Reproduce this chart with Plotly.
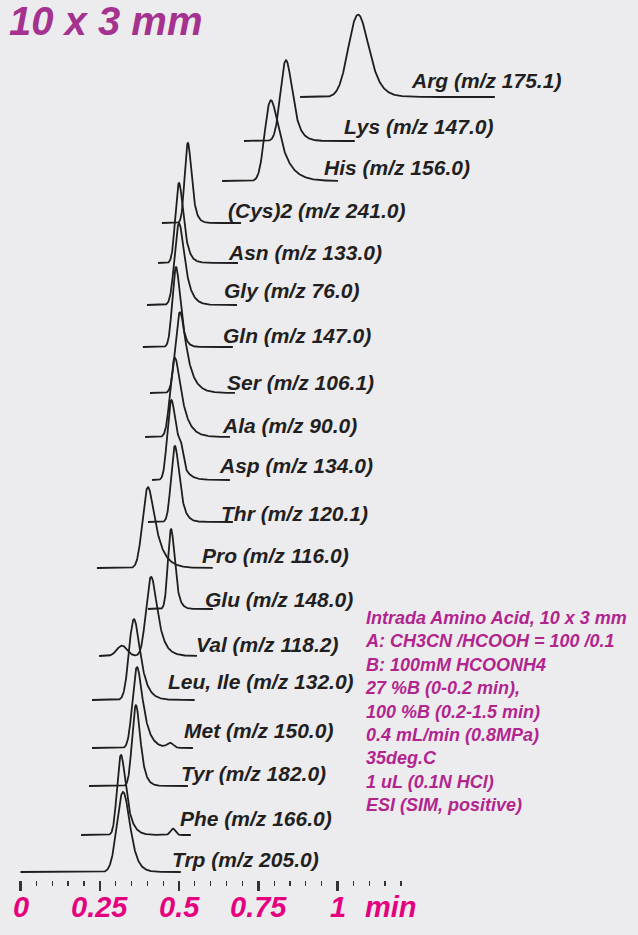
import math
import numpy as np
import plotly.graph_objects as go

# ---------------- data ----------------
NAMES = ["Arg", "Lys", "His", "(Cys)2", "Asn", "Gly", "Gln", "Ser", "Ala", "Asp",
         "Thr", "Pro", "Glu", "Val", "Leu, Ile", "Met", "Tyr", "Phe", "Trp"]
MZ = ["175.1", "147.0", "156.0", "241.0", "133.0", "76.0", "147.0", "106.1", "90.0", "134.0",
      "120.1", "116.0", "148.0", "118.2", "132.0", "150.0", "182.0", "166.0", "205.0"]
# retention time of the apex (min)
RT = [1.065, 0.8375, 0.790, 0.528, 0.500, 0.500, 0.4905, 0.503, 0.487, 0.476,
      0.487, 0.402, 0.475, 0.412, 0.358, 0.3675, 0.364, 0.317, 0.3235]
# normalized peak height
HEIGHT = [1.03, 1.01, 1.01, 1.00, 1.00, 1.02, 1.00, 1.01, 0.99, 1.00,
          0.95, 1.01, 1.00, 0.99, 1.01, 1.01, 1.01, 1.00, 1.00]
# peak width (gaussian sigma, min) and tailing constant (min)
SIGMA = [0.027, 0.015, 0.015, 0.0085, 0.0095, 0.0115, 0.010, 0.0115, 0.0115, 0.010,
         0.010, 0.0135, 0.0085, 0.013, 0.013, 0.0115, 0.010, 0.010, 0.017]
TAU = [0.024, 0.017, 0.032, 0.010, 0.013, 0.017, 0.010, 0.022, 0.022, 0.019,
       0.013, 0.025, 0.010, 0.019, 0.019, 0.019, 0.012, 0.016, 0.016]
# recorded window of each trace (min)
T_START = [0.882, 0.705, 0.636, 0.446, 0.434, 0.399, 0.386, 0.4085, 0.393, 0.415,
           0.402, 0.241, 0.402, 0.248, 0.2255, 0.2255, 0.216, 0.191, 0.0]
T_END = [1.497, 1.055, 1.002, 0.696, 0.686, 0.683, 0.670, 0.677, 0.661, 0.661,
         0.670, 0.607, 0.607, 0.557, 0.550, 0.544, 0.528, 0.538, 0.506]
# small secondary features (shoulders / bumps)
BUMP_TRACE = ["Asp", "Val", "Met", "Phe"]
BUMP_RT = [0.506, 0.320, 0.472, 0.481]
BUMP_H = [0.18, 0.13, 0.06, 0.08]
BUMP_SIGMA = [0.007, 0.016, 0.010, 0.008]

TICK_VALS = [0, 0.25, 0.5, 0.75, 1]
TICK_TEXT = ["0", "0.25", "0.5", "0.75", "1"]
MINOR_VALS = [0.05, 0.1, 0.15, 0.2, 0.3, 0.35, 0.4, 0.45, 0.55, 0.6, 0.65, 0.7,
              0.8, 0.85, 0.9, 0.95, 1.05, 1.1, 1.15, 1.2]

INFO_LINES = ["Intrada Amino Acid, 10 x 3 mm",
              "A: CH3CN /HCOOH = 100 /0.1",
              "B: 100mM HCOONH4",
              "27 %B (0-0.2 min),",
              "100 %B (0.2-1.5 min)",
              "0.4 mL/min (0.8MPa)",
              "35deg.C",
              "1 uL (0.1N HCl)",
              "ESI (SIM, positive)"]
TITLE = "10 x 3 mm"
UNIT = "min"

# ---------------- layout of the stack ----------------
BASELINE = [97, 141, 181, 223, 263, 305, 347, 393, 437, 480,
            522, 568, 609, 656, 700, 748, 786, 835, 872]
LABEL_X = [1.225, 1.014, 0.951, 0.648, 0.648, 0.635, 0.632, 0.645, 0.629, 0.619,
           0.626, 0.566, 0.575, 0.547, 0.458, 0.509, 0.499, 0.496, 0.471]
LABEL_Y = [80, 126, 167, 210, 252, 290, 335, 382, 425, 465,
           513, 555, 599, 644, 681, 730, 773, 818, 859]
SCALE = 80.0
PX_PER_MIN = 317.0
X0_PX = 20.5
W, H = 638, 935
PLOT_H = 880

LINE_COLOR = "#1e1e1e"
LABEL_COLOR = "#231f20"
TICK_COLOR = "#e4007f"
TITLE_COLOR = "#a4328e"
INFO_COLOR = "#b2258f"
BG = "#ececee"
FONT = "Liberation Sans, Arial, sans-serif"


def emg(t, mu, s, tau):
    z = (s / tau - (t - mu) / s) / math.sqrt(2)
    return math.exp(0.5 * (s / tau) ** 2 - (t - mu) / tau) * math.erfc(z)


def peak(ts, rt, s, tau):
    d = np.linspace(-4 * s, 4 * s + 4 * tau, 4001)
    vals = np.array([emg(v, 0.0, s, tau) for v in d])
    shift = d[int(np.argmax(vals))]
    mx = vals.max()
    mu = rt - shift
    return np.array([emg(v, mu, s, tau) for v in ts]) / mx


def py(px):
    return 1 - px / PLOT_H


fig = go.Figure()
for i, name in enumerate(NAMES):
    ts = np.arange(T_START[i], T_END[i] + 1e-9, 0.0008)
    sig = HEIGHT[i] * peak(ts, RT[i], SIGMA[i], TAU[i])
    for j, bn in enumerate(BUMP_TRACE):
        if bn == name:
            sig = sig + BUMP_H[j] * np.exp(-0.5 * ((ts - BUMP_RT[j]) / BUMP_SIGMA[j]) ** 2)
    fig.add_trace(go.Scatter(x=ts, y=-BASELINE[i] + SCALE * sig, mode="lines",
                             line=dict(color=LINE_COLOR, width=1.8),
                             hoverinfo="skip", showlegend=False))
    fig.add_annotation(x=LABEL_X[i], y=-LABEL_Y[i], xref="x", yref="y",
                       text=f"{name} (m/z {MZ[i]})", showarrow=False,
                       xanchor="left", yanchor="middle",
                       font=dict(family=FONT, size=21, color=LABEL_COLOR,
                                 weight="bold", style="italic"))

# info block
fig.add_annotation(x=(363 - X0_PX) / PX_PER_MIN, y=-606, xref="x", yref="y",
                   text="<br>".join(INFO_LINES), showarrow=False, align="left",
                   xanchor="left", yanchor="top",
                   font=dict(family=FONT, size=18, color=INFO_COLOR,
                             weight="bold", style="italic"))
# title
fig.add_annotation(x=(7 - X0_PX) / PX_PER_MIN, y=-21, xref="x", yref="y",
                   text=TITLE, showarrow=False, xanchor="left", yanchor="middle",
                   font=dict(family=FONT, size=40, color=TITLE_COLOR,
                             weight="bold", style="italic"))
# tick labels (placed on the x axis scale)
for v, t in zip(TICK_VALS, TICK_TEXT):
    fig.add_annotation(x=v, y=py(907), xref="x", yref="paper", text=t,
                       showarrow=False, xanchor="center", yanchor="middle",
                       font=dict(family=FONT, size=29, color=TICK_COLOR,
                                 weight="bold", style="italic"))
# unit
fig.add_annotation(x=(363 - X0_PX) / PX_PER_MIN, y=py(907), xref="x", yref="paper",
                   text=UNIT, showarrow=False, xanchor="left", yanchor="middle",
                   font=dict(family=FONT, size=29, color=TICK_COLOR,
                             weight="bold", style="italic"))

fig.update_layout(
    width=W, height=H,
    margin=dict(l=0, r=0, t=0, b=H - PLOT_H, pad=0),
    paper_bgcolor=BG, plot_bgcolor=BG,
    xaxis=dict(range=[-X0_PX / PX_PER_MIN, (W - X0_PX) / PX_PER_MIN],
               tickmode="array", tickvals=TICK_VALS, ticktext=TICK_TEXT,
               showticklabels=False,
               ticks="outside", ticklen=10, tickwidth=2.5, tickcolor="#333333",
               showgrid=False, zeroline=False, showline=False,
               minor=dict(tickmode="array", tickvals=MINOR_VALS, ticks="outside",
                          ticklen=5, tickwidth=1.2, tickcolor="#333333", showgrid=False)),
    yaxis=dict(range=[-PLOT_H, 0], visible=False, showgrid=False, zeroline=False),
)

fig.write_html("out.html",
               config={"displayModeBar": False, "staticPlot": True},
               post_script="document.body.style.margin='0';"
                           "document.documentElement.style.overflow='hidden';"
                           "document.body.style.overflow='hidden';")
